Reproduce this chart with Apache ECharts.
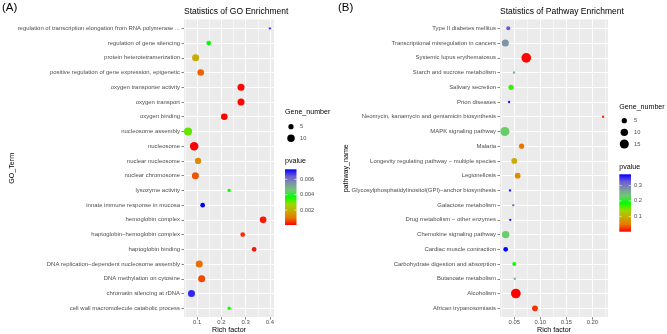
<!DOCTYPE html>
<html>
<head>
<meta charset="utf-8">
<script src="https://cdn.jsdelivr.net/npm/echarts@6/dist/echarts.min.js"></script>
<style>
  html, body { margin: 0; padding: 0; background: #fff; }
  #chart { width: 667px; height: 334px; }
</style>
</head>
<body>
<div id="chart"></div>
<script>
// (A) GO terms, top to bottom
const goTerms = [
  "regulation of transcription elongation from RNA polymerase ...",
  "regulation of gene silencing",
  "protein heterotetramerization",
  "positive regulation of gene expression, epigenetic",
  "oxygen transporter activity",
  "oxygen transport",
  "oxygen binding",
  "nucleosome assembly",
  "nucleosome",
  "nuclear nucleosome",
  "nuclear chromosome",
  "lysozyme activity",
  "innate immune response in mucosa",
  "hemoglobin complex",
  "haptoglobin\u2212hemoglobin complex",
  "haptoglobin binding",
  "DNA replication\u2212dependent nucleosome assembly",
  "DNA methylation on cytosine",
  "chromatin silencing at rDNA",
  "cell wall macromolecule catabolic process"
];
const goRich = [0.400, 0.148, 0.094, 0.115, 0.281, 0.281, 0.212, 0.063, 0.088, 0.104,
                0.093, 0.232, 0.123, 0.372, 0.288, 0.335, 0.109, 0.119, 0.077, 0.232];
const goPvalue = [0.0067, 0.0037, 0.0019, 0.0008, 0.0001, 0.0001, 0.0001, 0.0031, 0.00005, 0.0013,
                  0.0007, 0.0036, 0.0073, 0.0002, 0.0004, 0.0002, 0.0009, 0.0006, 0.0069, 0.0036];
const goGenes = [1, 4, 9, 8, 9, 9, 8, 12, 13, 7, 9, 2, 4, 8, 4, 4, 9, 9, 9, 2];
const goTicks = [0.1, 0.2, 0.3, 0.4];
const goMinor = [0.05, 0.15, 0.25, 0.35];
const goSizeBreaks = [5, 10];
const goColorBreaks = [0.002, 0.004, 0.006];

// (B) KEGG pathways, top to bottom
const pathNames = [
  "Type II diabetes mellitus",
  "Transcriptional misregulation in cancers",
  "Systemic lupus erythematosus",
  "Starch and sucrose metabolism",
  "Salivary secretion",
  "Prion diseases",
  "Neomycin, kanamycin and gentamicin biosynthesis",
  "MAPK signaling pathway",
  "Malaria",
  "Longevity regulating pathway \u2212 multiple species",
  "Legionellosis",
  "Glycosylphosphatidylinositol(GPI)\u2212anchor biosynthesis",
  "Galactose metabolism",
  "Drug metabolism \u2212 other enzymes",
  "Chemokine signaling pathway",
  "Cardiac muscle contraction",
  "Carbohydrate digestion and absorption",
  "Butanoate metabolism",
  "Alcoholism",
  "African trypanosomiasis"
];
const pathRich = [0.0385, 0.0328, 0.073, 0.0495, 0.0437, 0.040, 0.2205, 0.032, 0.064, 0.050,
                  0.0565, 0.0418, 0.048, 0.0423, 0.0335, 0.0335, 0.050, 0.051, 0.053, 0.0897];
const pathPvalue = [0.326, 0.279, 0.003, 0.25, 0.17, 0.36, 0.02, 0.23, 0.047, 0.095,
                    0.07, 0.36, 0.29, 0.36, 0.23, 0.372, 0.18, 0.25, 0.001, 0.02];
const pathGenes = [3, 9, 17, 1, 5, 1, 1, 15, 5, 6, 6, 1, 1, 1, 10, 4, 3, 1, 17, 6];
const pathTicks = [0.05, 0.10, 0.15, 0.20];
const pathMinor = [0.025, 0.075, 0.125, 0.175, 0.225];
const pathSizeBreaks = [5, 10, 15];
const pathColorBreaks = [0.1, 0.2, 0.3];

const FONT = "Liberation Sans, Arial, Helvetica, sans-serif";
const TEXT = "#4d4d4d";
// red -> green -> blue, sampled along a Lab blend
const palette = ["#ff0000", "#e87600", "#c9ab00", "#9ad800", "#00ff00",
                 "#6fc972", "#7d93a6", "#6c5bd3", "#0000ff"];

function sizeOf(n) { return 2.35 * Math.sqrt(n); }

function padRange(arr) {
  const lo = Math.min(...arr), hi = Math.max(...arr);
  const d = (hi - lo) * 0.05;
  return [lo - d, hi + d];
}

function rows(rich, pval, genes) {
  return rich.map((r, i) => [r, i, pval[i], genes[i]]);
}

const panels = [
  { name: "GO_Term", terms: goTerms, rich: goRich, pval: goPvalue, genes: goGenes,
    ticks: goTicks, minor: goMinor, digits: 1, sizeBreaks: goSizeBreaks, colorBreaks: goColorBreaks,
    grid: { left: 184, width: 90, top: 19.5, height: 297.6 }, nameGap: 168,
    legend: { x: 285, titleY: 113, dotX: 291, dotY: 126.7, step: 11.6, labelX: 300,
              cbTitleY: 162.3, cbTop: 169.3, cbW: 11.5, cbH: 55.7 } },
  { name: "pathway_name", terms: pathNames, rich: pathRich, pval: pathPvalue, genes: pathGenes,
    ticks: pathTicks, minor: pathMinor, digits: 2, sizeBreaks: pathSizeBreaks, colorBreaks: pathColorBreaks,
    grid: { left: 500, width: 108, top: 19.5, height: 297.6 }, nameGap: 150,
    legend: { x: 619.3, titleY: 108.3, dotX: 624.3, dotY: 120.7, step: 11.65, labelX: 634,
              cbTitleY: 167.7, cbTop: 174.3, cbW: 11.7, cbH: 57.4 } }
];

const grids = [], xAxes = [], yAxes = [], series = [], visualMaps = [], graphics = [];

panels.forEach((p, k) => {
  const xr = padRange(p.rich);
  const n = p.terms.length;
  grids.push(Object.assign({ show: true, backgroundColor: "#ebebeb", borderWidth: 0,
    containLabel: false, outerBoundsMode: "none" }, p.grid));

  xAxes.push({
    type: "value", gridIndex: k, min: xr[0], max: xr[1], position: "bottom",
    name: "Rich factor", nameLocation: "middle", nameGap: 9, nameMoveOverlap: false,
    nameTextStyle: { fontSize: 7.1, color: "#000", fontFamily: FONT },
    axisLine: { show: false, onZero: false },
    axisTick: { show: true, length: 2.5, customValues: p.ticks, lineStyle: { color: "#333", width: 0.6 } },
    axisLabel: { customValues: p.ticks, margin: 2.5, fontSize: 5.9, color: TEXT, fontFamily: FONT,
                 formatter: v => v.toFixed(p.digits) },
    splitLine: { show: true, lineStyle: { color: "#fff", width: 1 } }
  });
  // minor grid lines only
  xAxes.push({
    type: "value", gridIndex: k, min: xr[0], max: xr[1], position: "top",
    axisLine: { show: false, onZero: false }, axisLabel: { show: false },
    axisTick: { show: true, length: 0, customValues: p.minor, lineStyle: { color: "rgba(0,0,0,0)" } },
    splitLine: { show: true, lineStyle: { color: "#fff", width: 0.5 } }
  });

  const idx = p.terms.map((_, i) => i);
  yAxes.push({
    type: "value", gridIndex: k, inverse: true, min: -0.6, max: n - 0.4,
    name: p.name, nameLocation: "middle", nameGap: p.nameGap, nameRotate: 90, nameMoveOverlap: false,
    nameTextStyle: { fontSize: 7.1, color: "#000", fontFamily: FONT },
    axisLine: { show: false, onZero: false },
    axisTick: { show: true, length: 2.5, customValues: idx, lineStyle: { color: "#333", width: 0.6 } },
    axisLabel: { customValues: idx, margin: 4, fontSize: 5.95, color: TEXT, fontFamily: FONT,
                 formatter: v => p.terms[Math.round(v)] },
    splitLine: { show: true, lineStyle: { color: "#fff", width: 1 } }
  });

  series.push({
    type: "scatter", xAxisIndex: 2 * k, yAxisIndex: k,
    data: rows(p.rich, p.pval, p.genes),
    encode: { x: 0, y: 1 },
    symbolSize: v => sizeOf(v[3]),
    itemStyle: { opacity: 1 },
    silent: true
  });

  const pmin = Math.min(...p.pval), pmax = Math.max(...p.pval);
  const L = p.legend;
  visualMaps.push({
    type: "continuous", show: false, seriesIndex: k, dimension: 2, min: pmin, max: pmax,
    inRange: { color: palette }
  });

  // size legend
  graphics.push({ type: "text", left: L.x, top: L.titleY - 4.5,
    style: { text: "Gene_number", fontSize: 7.1, fill: "#000", fontFamily: FONT } });
  p.sizeBreaks.forEach((b, i) => {
    const cy = L.dotY + i * L.step;
    graphics.push({ type: "circle", shape: { cx: L.dotX, cy: cy, r: sizeOf(b) / 2 }, style: { fill: "#000" } });
    graphics.push({ type: "text", x: L.labelX, y: cy,
      style: { text: String(b), fontSize: 5.7, fill: TEXT, fontFamily: FONT, verticalAlign: "middle" } });
  });

  // colour bar
  graphics.push({ type: "text", left: L.x, top: L.cbTitleY - 4.5,
    style: { text: "pvalue", fontSize: 7.1, fill: "#000", fontFamily: FONT } });
  graphics.push({
    type: "rect", shape: { x: L.x, y: L.cbTop, width: L.cbW, height: L.cbH },
    style: { fill: new echarts.graphic.LinearGradient(0, 1, 0, 0,
      palette.map((c, i) => ({ offset: i / (palette.length - 1), color: c }))) }
  });
  p.colorBreaks.forEach(b => {
    const y = L.cbTop + L.cbH * (1 - (b - pmin) / (pmax - pmin));
    graphics.push({ type: "line", z: 100, shape: { x1: L.x, y1: y, x2: L.x + 2.3, y2: y }, style: { stroke: "#fff", lineWidth: 0.6 } });
    graphics.push({ type: "line", z: 100, shape: { x1: L.x + L.cbW - 2.3, y1: y, x2: L.x + L.cbW, y2: y }, style: { stroke: "#fff", lineWidth: 0.6 } });
    graphics.push({ type: "text", x: L.labelX, y: y,
      style: { text: String(b), fontSize: 5.7, fill: TEXT, fontFamily: FONT, verticalAlign: "middle" } });
  });
});

const chart = echarts.init(document.getElementById("chart"), null, { renderer: "canvas" });
chart.setOption({
  animation: false,
  backgroundColor: "#fff",
  title: [
    { text: "(A)", left: 2, top: 1.5, padding: 0, textStyle: { fontSize: 11.5, fontWeight: "normal", color: "#000", fontFamily: FONT } },
    { text: "(B)", left: 338, top: 1.5, padding: 0, textStyle: { fontSize: 11.5, fontWeight: "normal", color: "#000", fontFamily: FONT } },
    { text: "Statistics of GO Enrichment", left: 184, top: 6.8, padding: 0, textStyle: { fontSize: 8.5, fontWeight: "normal", color: "#000", fontFamily: FONT } },
    { text: "Statistics of Pathway Enrichment", left: 500, top: 6.8, padding: 0, textStyle: { fontSize: 8.5, fontWeight: "normal", color: "#000", fontFamily: FONT } }
  ],
  grid: grids,
  xAxis: xAxes,
  yAxis: yAxes,
  visualMap: visualMaps,
  series: series,
  graphic: graphics
});
</script>
</body>
</html>
